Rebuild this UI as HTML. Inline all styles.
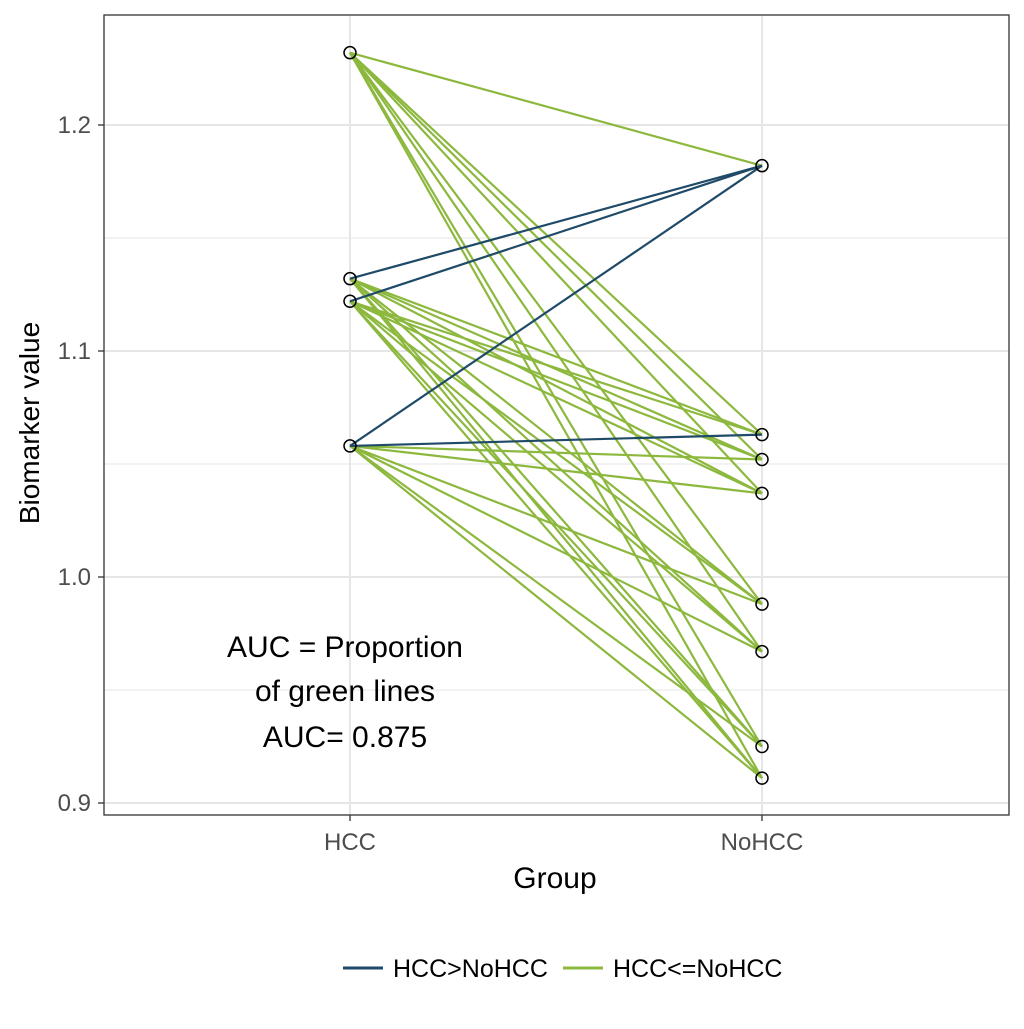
<!DOCTYPE html>
<html><head><meta charset="utf-8"><style>
body{margin:0;background:#fff;font-family:"Liberation Sans",sans-serif}
</style></head><body>
<svg id="chart" width="1024" height="1024" xmlns="http://www.w3.org/2000/svg">
<rect width="1024" height="1024" fill="#fff"/>
<g id="grid"></g>
<g id="lines"></g>
<g id="points"></g>
<rect x="104" y="15" width="905" height="800" fill="none" stroke="#333" stroke-width="1.3"/>
<g id="axes"></g>
<text x="345" y="657" font-size="30" text-anchor="middle">AUC = Proportion</text>
<text x="345" y="701" font-size="30" text-anchor="middle">of green lines</text>
<text x="345" y="747" font-size="30" text-anchor="middle">AUC= 0.875</text>
<text x="555" y="888" font-size="30" text-anchor="middle">Group</text>
<text transform="translate(39,423) rotate(-90)" font-size="28" text-anchor="middle">Biomarker value</text>
<g>
<line x1="343" y1="968" x2="383" y2="968" stroke="#1f4a68" stroke-width="3"/>
<text x="393" y="977" font-size="25">HCC&gt;NoHCC</text>
<line x1="563" y1="968" x2="603" y2="968" stroke="#8cb83e" stroke-width="3"/>
<text x="613" y="977" font-size="25">HCC&lt;=NoHCC</text>
</g>
</svg>
<script>
const groups = ["HCC","NoHCC"];
const hccValues = [1.232,1.132,1.122,1.058];
const noHccValues = [1.182,1.063,1.052,1.037,0.988,0.967,0.925,0.911];
const yTicks = [0.9,1.0,1.1,1.2];
const yTickLabels = ["0.9","1.0","1.1","1.2"];
const yMinor = [0.95,1.05,1.15];

const NS="http://www.w3.org/2000/svg";
const y = v => 577 - (v-1.0)*2260;
const x = i => [350,762][i];
function mk(tag,attrs,parent){const e=document.createElementNS(NS,tag);for(const k in attrs)e.setAttribute(k,attrs[k]);parent.appendChild(e);return e;}
const grid=document.getElementById('grid'),lines=document.getElementById('lines'),pts=document.getElementById('points'),axes=document.getElementById('axes');
yMinor.forEach(v=>{const l=mk('line',{x1:104,x2:1009,y1:y(v),y2:y(v),stroke:'#ebebeb','stroke-width':1.2},grid);

});
yTicks.forEach((v,i)=>{const l=mk('line',{x1:104,x2:1009,y1:y(v),y2:y(v),stroke:'#e6e6e6','stroke-width':2},grid);


const t=mk('line',{x1:98,x2:104,y1:y(v),y2:y(v),stroke:'#333','stroke-width':1.3},axes);


const tx=mk('text',{x:91,y:y(v)+8,'font-size':24,'text-anchor':'end',fill:'#4d4d4d'},axes);tx.textContent=yTickLabels[i];

});
groups.forEach((g,i)=>{const l=mk('line',{x1:x(i),x2:x(i),y1:15,y2:815,stroke:'#e6e6e6','stroke-width':2},grid);


const t=mk('line',{x1:x(i),x2:x(i),y1:815,y2:821,stroke:'#333','stroke-width':1.3},axes);


const tx=mk('text',{x:x(i),y:850,'font-size':24,'text-anchor':'middle',fill:'#4d4d4d'},axes);tx.textContent=g;

});
const drawLine=(h,n,blue)=>{const l=mk('line',{x1:x(0),y1:y(h),x2:x(1),y2:y(n),stroke:blue?'#1f4a68':'#8cb83e','stroke-width':2.2},lines);

};
hccValues.forEach(h=>noHccValues.forEach(n=>{if(h>=n)drawLine(h,n,false);}));
hccValues.forEach(h=>noHccValues.forEach(n=>{if(h<n)drawLine(h,n,true);}));
[[hccValues,0],[noHccValues,1]].forEach(([arr,i])=>arr.forEach(v=>{const c=mk('circle',{cx:x(i),cy:y(v),r:6,fill:'none',stroke:'#000','stroke-width':1.5},pts);

}));
</script>
</body></html>
